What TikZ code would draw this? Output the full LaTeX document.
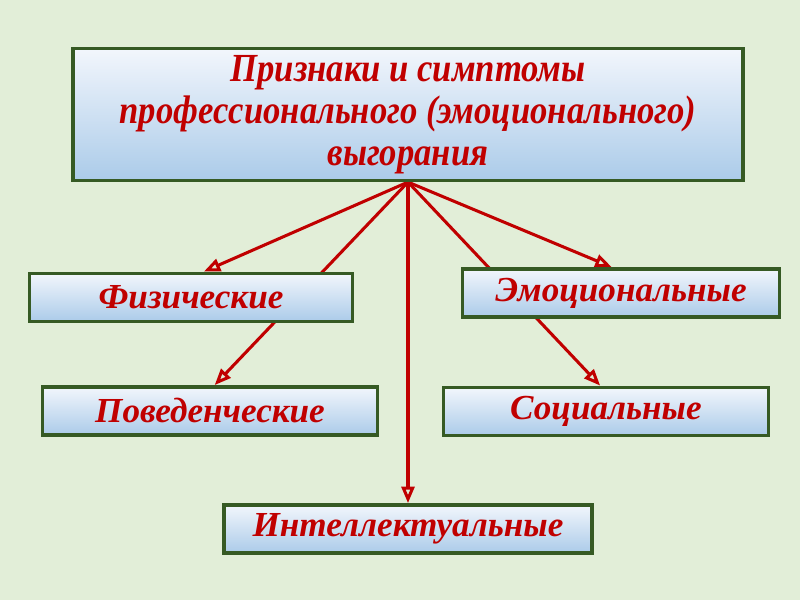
\documentclass[tikz,border=0pt]{standalone}
\usepackage{fontspec}
\setmainfont{Liberation Serif}
\newfontfamily\headfont[FakeStretch=0.87]{Liberation Serif}
\usepackage{tikz}
\usetikzlibrary{arrows.meta, positioning, shadows}
\definecolor{bggreen}{HTML}{E2EED8}
\definecolor{boxedge}{HTML}{365A24}
\definecolor{boxtop}{HTML}{F2F6FC}
\definecolor{boxbot}{HTML}{ABCBE9}
\definecolor{txtred}{HTML}{C00000}
\pgfdeclarelayer{bg}
\pgfdeclarelayer{lines}
\pgfsetlayers{bg,lines,main}

\begin{document}
\begin{tikzpicture}[x=0.03cm, y=-0.03cm,
        box/.style={draw=boxedge, line width=3pt, top color=boxtop, bottom color=boxbot,
            text=txtred, font=\bfseries\itshape\fontsize{30}{34}\selectfont,
            minimum height=1.45cm, inner sep=2pt,
            drop shadow={opacity=0.25, shadow xshift=1.5pt, shadow yshift=-1.5pt}},
        link/.style={draw=txtred, line width=2.6pt, -{Triangle[open, length=14pt, width=11pt]}}]
        \begin{pgfonlayer}{bg}
        \fill[bggreen] (0,0) rectangle (800,600);
        \end{pgfonlayer}
        \node[box, minimum width=20.1cm, minimum height=3.95cm, align=center,
            font=\headfont\bfseries\itshape\fontsize{34}{36}\selectfont] (head) at (408,114.5)
            {Признаки и симптомы\\профессионального (эмоционального)\\выгорания};
        \node[box, minimum width=9.7cm] (phys) at (191,297.5) {Физические};
        \node[box, minimum width=9.5cm] (emo) at (621,293) {Эмоциональные};
        \node[box, minimum width=10.05cm] (behav) at (210,411) {Поведенческие};
        \node[box, minimum width=9.75cm] (social) at (606,411.5) {Социальные};
        \node[box, minimum width=11.05cm] (intel) at (408,529) {Интеллектуальные};
        \begin{pgfonlayer}{lines}
        \draw[link] (head.south) -- ([xshift=11pt]phys.north);
        \draw[link] (head.south) -- ([xshift=-8pt]emo.north);
        \draw[link] (head.south) -- ([xshift=4pt]behav.north);
        \draw[link] (head.south) -- ([xshift=-5pt]social.north);
        \draw[link] (head.south) -- (intel.north);
        \end{pgfonlayer}
\end{tikzpicture}
\end{document}
